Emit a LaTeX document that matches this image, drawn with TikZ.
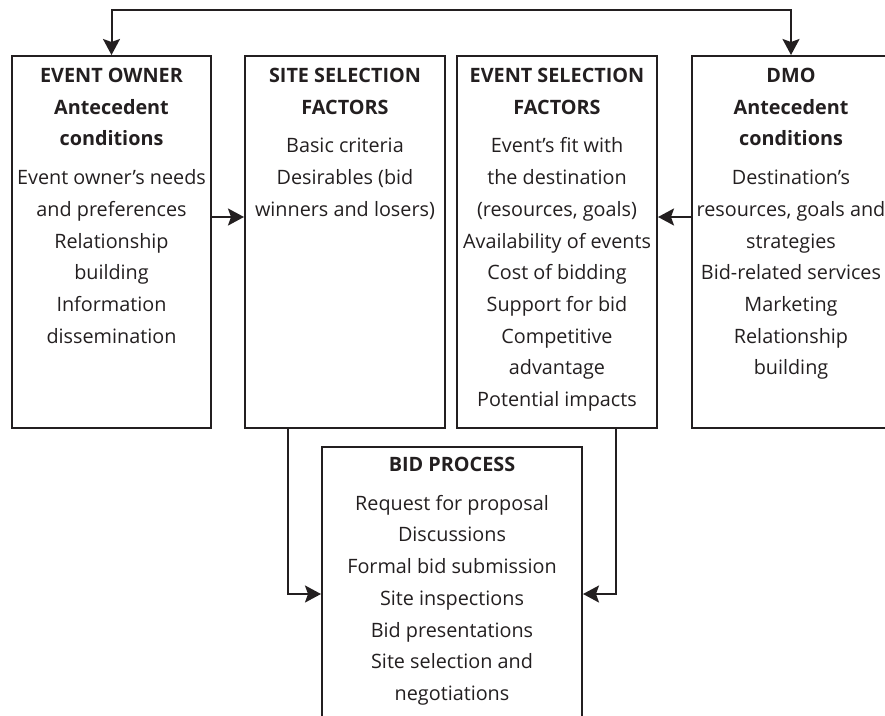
\documentclass[tikz,border=0pt]{standalone}
\usepackage{fontspec}
\setmainfont{Open Sans}
\usetikzlibrary{positioning}
\usetikzlibrary{arrows.meta}
\definecolor{ink}{RGB}{35,31,32}
\tikzset{
    mybox/.style = {rectangle, line width=2pt, draw=ink, minimum width=199pt, minimum height=372pt, anchor=north},
    boxtext/.style = {align=center, inner sep=0pt, anchor=north, text=ink, font=\fontsize{19.8}{31.7}\selectfont},
    edgen/.style = {-{Stealth[length=16pt,width=17pt,inset=3pt]}, line width=2pt, draw=ink},
    edged/.style = {{Stealth[length=16pt,width=17pt,inset=3pt]}-{Stealth[length=16pt,width=17pt,inset=3pt]}, line width=2pt, draw=ink}
}
\begin{document}
\begin{tikzpicture}[x=1pt, y=-1pt]
  \useasboundingbox (0,0) rectangle (885,715);
  \clip (0,0) rectangle (885,715);

  \node[mybox] (owner) at (111.5,55) {};
  \node[mybox, minimum width=200pt] (site) at (345,55) {};
  \node[mybox, minimum width=200pt] (events) at (557,55) {};
  \node[mybox, minimum width=198pt] (dmo) at (791,55) {};
  \node[mybox, minimum width=260pt, minimum height=294pt] (bid) at (452,446) {};

  \node[boxtext, below=13pt of owner.north] (ownertxt) {\textbf{EVENT OWNER}\\\textbf{Antecedent}\\\textbf{conditions}\\[7pt]
    Event owner's needs\\and preferences\\Relationship\\building\\Information\\dissemination};
  \node[boxtext, below=13pt of site.north] (sitetxt) {\textbf{SITE SELECTION}\\\textbf{FACTORS}\\[7pt]
    Basic criteria\\Desirables (bid\\winners and losers)};
  \node[boxtext, below=13pt of events.north] (eventstxt) {\textbf{EVENT SELECTION}\\\textbf{FACTORS}\\[7pt]
    Event's fit with\\the destination\\(resources, goals)\\Availability of events\\Cost of bidding\\Support for bid\\Competitive\\advantage\\Potential impacts};
  \node[boxtext, below=13pt of dmo.north] (dmotxt) {\textbf{DMO}\\\textbf{Antecedent}\\\textbf{conditions}\\[7pt]
    Destination's\\resources, goals and\\strategies\\Bid-related services\\Marketing\\Relationship\\building};
  \node[boxtext, below=11pt of bid.north] (bidtxt) {\textbf{BID PROCESS}\\[7pt]
    Request for proposal\\Discussions\\Formal bid submission\\Site inspections\\Bid presentations\\Site selection and\\negotiations};

  \coordinate (top) at (0,10);
  \draw[edged] (owner.north) -- (owner.north |- top) -| (dmo.north);
  \draw[edgen] ([yshift=25pt]owner.east) -- ([yshift=25pt]site.west);
  \draw[edgen] ([yshift=25pt]dmo.west) -- ([yshift=25pt]events.east);
  \draw[edgen] ([xshift=-57pt]site.south) |- (bid.west);
  \draw[edgen] ([xshift=59pt]events.south) |- (bid.east);
\end{tikzpicture}
\end{document}
